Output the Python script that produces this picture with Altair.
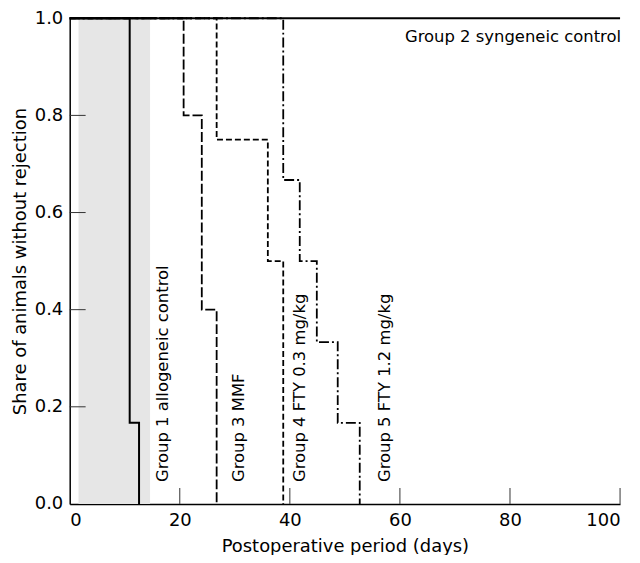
import altair as alt
import pandas as pd

# Kaplan-Meier style step data (days, share without rejection)
g1_days = [0, 10.9, 12.6]
g1_share = [1.0, 0.167, 0.0]
g2_days = [0, 100]
g2_share = [1.0, 1.0]
g3_days = [0, 20.7, 24.0, 26.7]
g3_share = [1.0, 0.8, 0.4, 0.0]
g4_days = [0, 26.7, 36.0, 38.8]
g4_share = [1.0, 0.75, 0.5, 0.0]
g5_days = [0, 38.8, 41.8, 44.9, 48.7, 52.7]
g5_share = [1.0, 0.667, 0.5, 0.333, 0.167, 0.0]

shade_start = [1.6]
shade_end = [14.6]

x_ticks = [20, 40, 60, 80, 100]
y_ticks = [0.2, 0.4, 0.6, 0.8]

vlabels = ["Group 1 allogeneic control", "Group 3 MMF", "Group 4 FTY 0.3 mg/kg", "Group 5 FTY 1.2 mg/kg"]
vlabel_x = [16.9, 30.8, 41.9, 57.3]
vlabel_y = [0.045, 0.045, 0.045, 0.045]

hlabel = ["Group 2 syngeneic control"]
hlabel_x = [100]
hlabel_y = [0.961]

W, H = 553, 488
FONT = "DejaVu Sans"

xs = alt.Scale(domain=[0, 100], nice=False, zero=False)
ys = alt.Scale(domain=[0, 1], nice=False)

xaxis = alt.Axis(values=[0, 20, 40, 60, 80, 100], ticks=False, grid=False, labelPadding=8,
                 title="Postoperative period (days)", titlePadding=8, domainColor="black",
                 domainWidth=1.5, labelFontSize=18, titleFontSize=18, labelColor="black",
                 titleColor="black", labelFont=FONT, titleFont=FONT, titleFontWeight="normal")
yaxis = alt.Axis(values=[0, 0.2, 0.4, 0.6, 0.8, 1.0], format=".1f", ticks=False, grid=False,
                 labelPadding=7, title="Share of animals without rejection", titlePadding=5,
                 domainColor="black", domainWidth=1.5, labelFontSize=18, titleFontSize=18,
                 labelColor="black", titleColor="black", labelFont=FONT, titleFont=FONT,
                 titleFontWeight="normal")

shade = alt.Chart(pd.DataFrame({"s": shade_start, "e": shade_end})).mark_rect(color="#e6e6e6").encode(
    x=alt.X("s:Q", scale=xs, axis=xaxis),
    x2="e:Q",
    y=alt.value(0),
    y2=alt.value(H),
)

xt = alt.Chart(pd.DataFrame({"t": x_ticks})).mark_rule(color="#333333", strokeWidth=1).encode(
    x=alt.X("t:Q", scale=xs),
    y=alt.value(H - 16),
    y2=alt.value(H),
)
yt = alt.Chart(pd.DataFrame({"t": y_ticks})).mark_rule(color="#333333", strokeWidth=1).encode(
    y=alt.Y("t:Q", scale=ys, axis=yaxis),
    x=alt.value(0),
    x2=alt.value(16),
)

def step(days, share, dash, width=1.8):
    df = pd.DataFrame({"d": days, "s": share})
    kw = dict(color="black", strokeWidth=width, interpolate="step-after", clip=False)
    if dash:
        kw["strokeDash"] = dash
    return alt.Chart(df).mark_line(**kw).encode(
        x=alt.X("d:Q", scale=xs),
        y=alt.Y("s:Q", scale=ys),
    )

l1 = step(g1_days, g1_share, None, 2)
l2 = step(g2_days, g2_share, None, 2)
l3 = step(g3_days, g3_share, [10, 3])
l4 = step(g4_days, g4_share, [6, 3])
l5 = step(g5_days, g5_share, [10, 3, 2, 3])

vt = alt.Chart(pd.DataFrame({"lab": vlabels, "x": vlabel_x, "y": vlabel_y})).mark_text(
    angle=270, align="left", baseline="middle", fontSize=16.5, font=FONT, color="black"
).encode(x=alt.X("x:Q", scale=xs), y=alt.Y("y:Q", scale=ys), text="lab:N")

ht = alt.Chart(pd.DataFrame({"lab": hlabel, "x": hlabel_x, "y": hlabel_y})).mark_text(
    align="right", baseline="middle", fontSize=16.5, font=FONT, color="black", dx=1
).encode(x=alt.X("x:Q", scale=xs), y=alt.Y("y:Q", scale=ys), text="lab:N")

chart = alt.layer(shade, xt, yt, l1, l3, l4, l5, l2, vt, ht).properties(
    width=W, height=H,
    autosize=alt.AutoSizeParams(type="none"),
    padding={"left": 62, "top": 9, "right": 12, "bottom": 50},
).configure_view(stroke=None)

chart.save("out.html", embed_options={"renderer": "svg", "actions": False})
